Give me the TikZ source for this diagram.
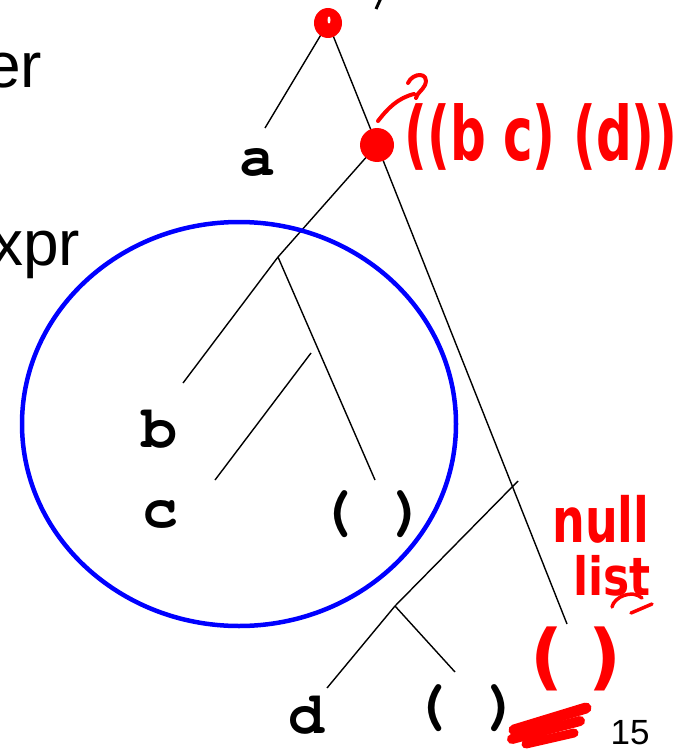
\documentclass[tikz,border=0pt]{standalone}
\usepackage{fontspec}
\setmainfont{Liberation Sans}
\newfontfamily\codefont{TeX Gyre Cursor}
\newfontfamily\handfont{DejaVu Sans}

\begin{document}
\begin{tikzpicture}[x=1pt,y=-1pt,
  tree/.style={line width=1.4pt},
  code/.style={font=\codefont\bfseries\fontsize{60}{60}\selectfont,anchor=base,inner sep=0pt},
  slide/.style={font=\fontsize{64}{64}\selectfont,anchor=base west,inner sep=0pt},
  ink/.style={red,line width=4pt,line cap=round,line join=round},
  hand/.style={red,anchor=base,inner sep=0pt}]
\useasboundingbox (0,0) rectangle (681,749);
% slide text, cut at the left edge
\node[slide] (er) at (-15,88) {er};
\node[slide] (xpr) at (-9,265) {xpr};
\node[anchor=base,inner sep=0pt,font=\fontsize{35}{35}\selectfont] (page) at (630,744) {15};
\draw[line width=3pt] (381,-2) -- (376,9);

% leaves
\node[code] (a) at (257,175) {a};
\node[code] (b) at (159,447) {b};
\node[code] (c) at (160,527) {c};
\node[code] (nil1) at (372,528) {( )};
\node[code] (d) at (306,733) {d};
\node[code] (nil2) at (466,722) {( )};

% tree
\coordinate (root) at (328,23);
\coordinate (top) at (377,145);
\coordinate (aend) at (265,128);
\coordinate (s1) at (278,257);
\coordinate (bend) at (183,383);
\coordinate (s1end) at (375,480);
\coordinate (s2) at (311,353);
\coordinate (cend) at (215,480);
\coordinate (nilend) at (567,624);
\coordinate (t1) at (518,481);
\coordinate (t2) at (395,606);
\coordinate (dend) at (327,688);
\coordinate (t2end) at (455,672);
\draw[tree] (root) -- (aend);
\draw[tree] (root) -- (top);
\draw[tree] (top) -- (s1) -- (bend);
\draw[tree] (s1) -- (s1end);
\draw[tree] (s2) -- (cend);
\draw[tree] (top) -- (nilend);
\draw[tree] (t1) -- (t2) -- (dend);
\draw[tree] (t2) -- (t2end);

% the sublist
\draw[blue,line width=4.5pt] (239,424) ellipse [x radius=217pt, y radius=202pt];

% red notes
\fill[red] (root) ellipse [x radius=14pt, y radius=15pt];
\fill[white] (329,20) ellipse [x radius=1.5pt, y radius=3.5pt];
\fill[red] (top) ellipse [x radius=17pt, y radius=17pt];
\draw[ink] (378,121) .. controls (388,108) and (398,98) .. (414,94);
\draw[ink] (408,83) .. controls (413,72) and (430,72) .. (425,85) .. controls (422,91) and (417,93) .. (416,98);
\node[hand,font=\handfont\bfseries\fontsize{50}{50}\selectfont] (sub) at (541,160) {\scalebox{1}[1.5]{((b c) (d))}};
\node[hand,font=\handfont\bfseries\fontsize{46}{46}\selectfont] (null) at (601,542) {\scalebox{1}[1.35]{null}};
\node[hand,font=\handfont\bfseries\fontsize{44}{44}\selectfont] (list) at (612,595) {\scalebox{1}[1.2]{list}};
\draw[ink,line width=3.5pt] (612,607) .. controls (614,597) and (632,589) .. (642,598);
\draw[ink,line width=3.5pt] (631,613) -- (652,604);
\node[hand,font=\handfont\bfseries\fontsize{72}{72}\selectfont] (nil3) at (576,681) {( )};
\draw[ink,line width=11pt] (514,730) -- (586,708);
\draw[ink,line width=10pt] (512,739) -- (580,721);
\draw[ink,line width=9pt] (526,744) -- (574,733);
\end{tikzpicture}
\end{document}
